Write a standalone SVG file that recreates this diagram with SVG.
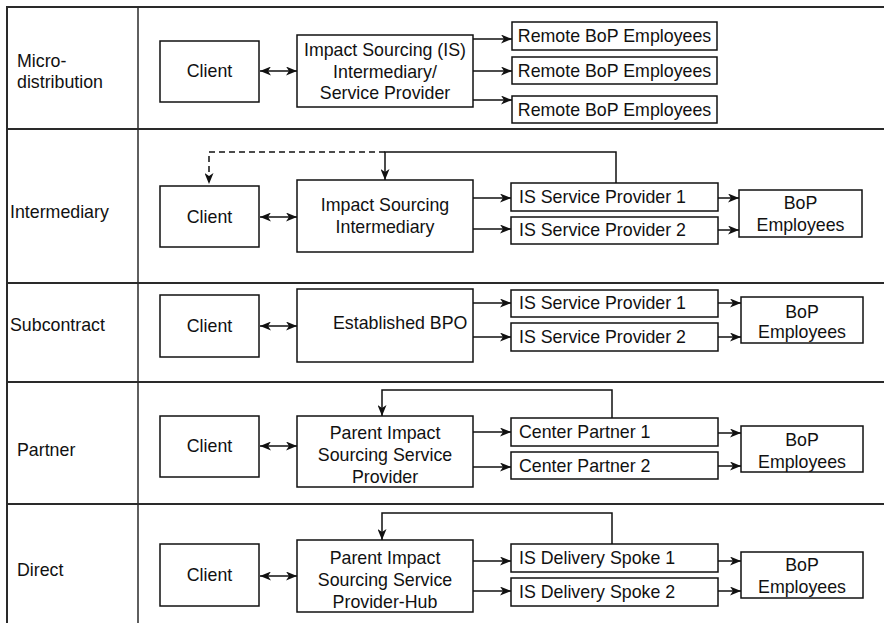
<svg xmlns="http://www.w3.org/2000/svg" width="884" height="623" viewBox="0 0 884 623">
  <style>
    text { font-family: "Liberation Sans", Arial, sans-serif; font-size: 17.8px; fill: #111; }
    .c { text-anchor: middle; }
    .box { fill: #fff; stroke: #111; stroke-width: 1.5; }
    .grid { stroke: #2a2a2a; stroke-width: 2; fill: none; }
    .ln { stroke: #111; stroke-width: 1.5; fill: none; }
    .arr { marker-end: url(#ah); }
    .dbl { marker-start: url(#ahs); marker-end: url(#ah); }
    .dash { stroke-dasharray: 6 4; }
  </style>
  <defs>
    <marker id="ah" viewBox="0 0 11 9" refX="11" refY="4.5" markerWidth="11" markerHeight="9" markerUnits="userSpaceOnUse" orient="auto">
      <path d="M0,0 L11,4.5 L0,9 L3,4.5 Z" fill="#111"/>
    </marker>
    <marker id="ahs" viewBox="0 0 11 9" refX="11" refY="4.5" markerWidth="11" markerHeight="9" markerUnits="userSpaceOnUse" orient="auto-start-reverse">
      <path d="M0,0 L11,4.5 L0,9 L3,4.5 Z" fill="#111"/>
    </marker>
  </defs>

  <rect width="884" height="623" fill="#fff"/>

  <!-- table grid -->
  <g id="grid">
    <line class="grid" x1="6" y1="7" x2="884" y2="7"/>
    <line class="grid" x1="7" y1="6" x2="7" y2="623"/>
    <line class="grid" x1="138" y1="7" x2="138" y2="623" style="stroke-width:1.5"/>
    <line class="grid" x1="7" y1="129" x2="884" y2="129"/>
    <line class="grid" x1="7" y1="283" x2="884" y2="283"/>
    <line class="grid" x1="7" y1="382" x2="884" y2="382"/>
    <line class="grid" x1="7" y1="504" x2="884" y2="504"/>
  </g>

  <!-- row labels -->
  <g id="labels">
    <text x="17" y="67">Micro-</text>
    <text x="17" y="88">distribution</text>
    <text x="10" y="218">Intermediary</text>
    <text x="10" y="331">Subcontract</text>
    <text x="17" y="456">Partner</text>
    <text x="17" y="576">Direct</text>
  </g>

  <!-- Row 1: micro-distribution -->
  <g id="r1-client"><rect class="box" x="160" y="41" width="99" height="61"/><text class="c" x="209.5" y="77">Client</text></g>
  <g id="r1-is">
    <rect class="box" x="297" y="35" width="176" height="72"/>
    <text class="c" x="385" y="56">Impact Sourcing (IS)</text>
    <text class="c" x="385" y="78">Intermediary/</text>
    <text class="c" x="385" y="99">Service Provider</text>
  </g>
  <g id="r1-emp1"><rect class="box" x="512" y="22" width="205" height="28"/><text class="c" x="614.5" y="42">Remote BoP Employees</text></g>
  <g id="r1-emp2"><rect class="box" x="512" y="57" width="205" height="27"/><text class="c" x="614.5" y="77">Remote BoP Employees</text></g>
  <g id="r1-emp3"><rect class="box" x="512" y="96" width="205" height="27"/><text class="c" x="614.5" y="116">Remote BoP Employees</text></g>

  <!-- Row 2: intermediary -->
  <g id="r2-client"><rect class="box" x="160" y="186" width="99" height="61"/><text class="c" x="209.5" y="223">Client</text></g>
  <g id="r2-is">
    <rect class="box" x="297" y="180" width="176" height="72"/>
    <text class="c" x="385" y="211">Impact Sourcing</text>
    <text class="c" x="385" y="233">Intermediary</text>
  </g>
  <g id="r2-sp1"><rect class="box" x="511" y="183" width="207" height="28"/><text x="519" y="203">IS Service Provider 1</text></g>
  <g id="r2-sp2"><rect class="box" x="511" y="217" width="207" height="27"/><text x="519" y="236">IS Service Provider 2</text></g>
  <g id="r2-bop">
    <rect class="box" x="739" y="190" width="123" height="47"/>
    <text class="c" x="800.5" y="209">BoP</text>
    <text class="c" x="800.5" y="231">Employees</text>
  </g>

  <!-- Row 3: subcontract -->
  <g id="r3-client"><rect class="box" x="160" y="295" width="99" height="62"/><text class="c" x="209.5" y="332">Client</text></g>
  <g id="r3-bpo">
    <rect class="box" x="297" y="289" width="176" height="73"/>
    <text x="333" y="329">Established BPO</text>
  </g>
  <g id="r3-sp1"><rect class="box" x="511" y="290" width="207" height="27"/><text x="519" y="309">IS Service Provider 1</text></g>
  <g id="r3-sp2"><rect class="box" x="511" y="323" width="207" height="28"/><text x="519" y="343">IS Service Provider 2</text></g>
  <g id="r3-bop">
    <rect class="box" x="741" y="297" width="122" height="46"/>
    <text class="c" x="802" y="318">BoP</text>
    <text class="c" x="802" y="338">Employees</text>
  </g>

  <!-- Row 4: partner -->
  <g id="r4-client"><rect class="box" x="160" y="416" width="99" height="61"/><text class="c" x="209.5" y="452">Client</text></g>
  <g id="r4-parent">
    <rect class="box" x="297" y="416" width="176" height="71"/>
    <text class="c" x="385" y="439">Parent Impact</text>
    <text class="c" x="385" y="461">Sourcing Service</text>
    <text class="c" x="385" y="483">Provider</text>
  </g>
  <g id="r4-cp1"><rect class="box" x="511" y="418" width="207" height="28"/><text x="519" y="438">Center Partner 1</text></g>
  <g id="r4-cp2"><rect class="box" x="511" y="452" width="207" height="27"/><text x="519" y="472">Center Partner 2</text></g>
  <g id="r4-bop">
    <rect class="box" x="741" y="426" width="122" height="46"/>
    <text class="c" x="802" y="446">BoP</text>
    <text class="c" x="802" y="468">Employees</text>
  </g>

  <!-- Row 5: direct -->
  <g id="r5-client"><rect class="box" x="160" y="544" width="99" height="62"/><text class="c" x="209.5" y="581">Client</text></g>
  <g id="r5-hub">
    <rect class="box" x="297" y="540" width="176" height="72"/>
    <text class="c" x="385" y="564">Parent Impact</text>
    <text class="c" x="385" y="586">Sourcing Service</text>
    <text class="c" x="385" y="608">Provider-Hub</text>
  </g>
  <g id="r5-sp1"><rect class="box" x="511" y="544" width="207" height="28"/><text x="519" y="564">IS Delivery Spoke 1</text></g>
  <g id="r5-sp2"><rect class="box" x="511" y="578" width="207" height="28"/><text x="519" y="598">IS Delivery Spoke 2</text></g>
  <g id="r5-bop">
    <rect class="box" x="741" y="552" width="122" height="46"/>
    <text class="c" x="802" y="571">BoP</text>
    <text class="c" x="802" y="593">Employees</text>
  </g>

  <!-- connectors -->
  <g id="connectors">
    <!-- row 1 -->
    <line class="ln dbl" x1="260" y1="71" x2="297" y2="71"/>
    <line class="ln arr" x1="473" y1="39" x2="512" y2="39"/>
    <line class="ln arr" x1="473" y1="71" x2="512" y2="71"/>
    <line class="ln arr" x1="473" y1="100" x2="512" y2="100"/>
    <!-- row 2 -->
    <line class="ln dbl" x1="260" y1="217" x2="297" y2="217"/>
    <line class="ln arr" x1="473" y1="198" x2="511" y2="198"/>
    <line class="ln arr" x1="473" y1="229" x2="511" y2="229"/>
    <line class="ln arr" x1="718" y1="198" x2="739" y2="198"/>
    <line class="ln arr" x1="718" y1="230" x2="739" y2="230"/>
    <path class="ln arr" d="M616,183 V152 H385 V180"/>
    <path class="ln arr dash" d="M385,152 H209 V184"/>
    <!-- row 3 -->
    <line class="ln dbl" x1="260" y1="326" x2="297" y2="326"/>
    <line class="ln arr" x1="473" y1="303" x2="511" y2="303"/>
    <line class="ln arr" x1="473" y1="337" x2="511" y2="337"/>
    <line class="ln arr" x1="718" y1="303" x2="741" y2="303"/>
    <line class="ln arr" x1="718" y1="337" x2="741" y2="337"/>
    <!-- row 4 -->
    <line class="ln dbl" x1="260" y1="446" x2="297" y2="446"/>
    <line class="ln arr" x1="473" y1="432" x2="511" y2="432"/>
    <line class="ln arr" x1="473" y1="467" x2="511" y2="467"/>
    <line class="ln arr" x1="718" y1="433" x2="741" y2="433"/>
    <line class="ln arr" x1="718" y1="466" x2="741" y2="466"/>
    <path class="ln arr" d="M612,418 V390 H382 V416"/>
    <!-- row 5 -->
    <line class="ln dbl" x1="260" y1="576" x2="297" y2="576"/>
    <line class="ln arr" x1="473" y1="561" x2="511" y2="561"/>
    <line class="ln arr" x1="473" y1="591" x2="511" y2="591"/>
    <line class="ln arr" x1="718" y1="561" x2="741" y2="561"/>
    <line class="ln arr" x1="718" y1="591" x2="741" y2="591"/>
    <path class="ln arr" d="M612,544 V513 H382 V540"/>
  </g>
</svg>
